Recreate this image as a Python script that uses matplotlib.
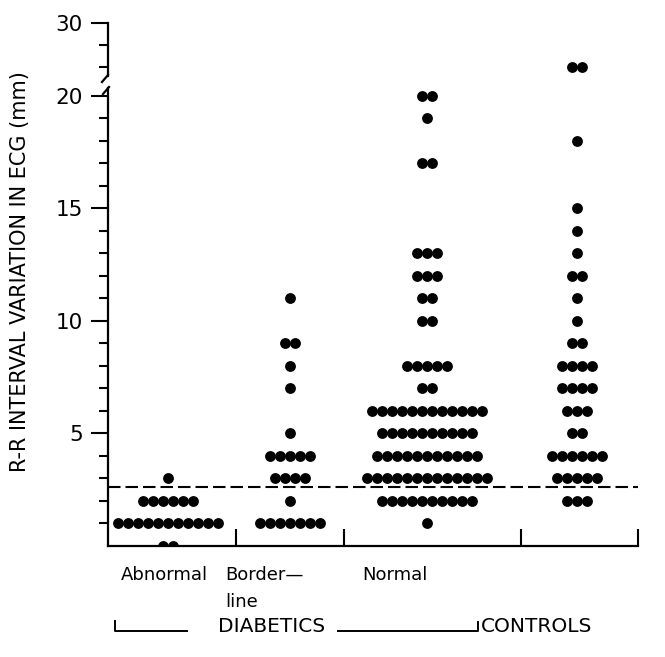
import matplotlib
matplotlib.use('Agg')
from matplotlib import pyplot as plt
from matplotlib.lines import Line2D
import numpy as np

plt.rcParams['font.family'] = ['DejaVu Sans']

# dot plot data: value (mm) and how many subjects at that value
abnormal_values = [0, 1, 2, 3]
abnormal_counts = [2, 11, 6, 1]
border_values = [1, 2, 3, 4, 5, 7, 8, 9, 11]
border_counts = [7, 1, 4, 5, 1, 1, 1, 2, 1]
normal_values = [1, 2, 3, 4, 5, 6, 7, 8, 10, 11, 12, 13, 17, 19, 20]
normal_counts = [1, 10, 13, 11, 10, 12, 2, 5, 2, 2, 3, 3, 2, 1, 2]
control_values = [2, 3, 4, 5, 6, 7, 8, 9, 10, 11, 12, 13, 14, 15, 18, 25]
control_counts = [3, 5, 6, 2, 3, 4, 4, 2, 1, 1, 2, 1, 1, 1, 1, 2]

group_centers = [6.0, 18.2, 31.9, 46.9]
separators = [12.8, 23.6, 41.3, 53.0]
threshold = 2.6

lower_ticks = [5, 10, 15, 20]
upper_ticks = [30]

W, H = 665, 657
fig = plt.figure(figsize=(6.65, 6.57), dpi=100)
ax = fig.add_axes([108/W, 1-546/H, 530/W, 458/H])
ax_top = fig.add_axes([108/W, 1-76/H, 530/W, 53/H], sharex=ax)

groups = [(abnormal_values, abnormal_counts), (border_values, border_counts),
          (normal_values, normal_counts), (control_values, control_counts)]

for (vals, cnts), cx in zip(groups, group_centers):
    for v, n in zip(vals, cnts):
        xs = cx + np.arange(n) - (n-1)/2.0
        ys = np.full(n, v)
        for a in (ax, ax_top):
            a.plot(xs, ys, 'o', color='black', markersize=7.8, markeredgewidth=0)

ax.axhline(threshold, color='black', lw=1.5, ls=(0, (6, 2.4)))

ax.set_xlim(0, 53)
ax.set_ylim(0, 20.35)
ax_top.set_ylim(24.0, 30)

for a in (ax, ax_top):
    a.spines['right'].set_visible(False)
    a.spines['top'].set_visible(False)
    a.spines['left'].set_linewidth(1.6)
ax_top.spines['bottom'].set_visible(False)
ax.spines['bottom'].set_linewidth(1.6)

ax.set_yticks(lower_ticks)
ax.set_yticklabels([str(t) for t in lower_ticks])
ax.set_yticks(np.arange(1, 21), minor=True)
ax.tick_params(axis='y', which='major', direction='out', length=12, width=1.5,
               labelsize=15.5, pad=6)
ax.tick_params(axis='y', which='minor', direction='out', length=6.5, width=1.5)

ax.set_xticks(separators)
ax.set_xticklabels([])
ax.tick_params(axis='x', which='major', direction='in', length=12, width=1.5)

ax_top.set_yticks(upper_ticks)
ax_top.set_yticklabels(['30'])
ax_top.set_yticks([25, 27.5], minor=True)
ax_top.tick_params(axis='y', which='major', direction='out', length=12, width=1.5,
                   labelsize=15.5, pad=6)
ax_top.tick_params(axis='y', which='minor', direction='out', length=6.5, width=1.5)
ax_top.tick_params(axis='x', which='both', bottom=False, labelbottom=False)


def fline(xs, ys, lw=1.4):
    fig.add_artist(Line2D([x/W for x in xs], [1-y/H for y in ys],
                          color='black', lw=lw))


# break marks on the y axis
fline([108, 102], [75, 82], lw=1.6)
fline([103, 109], [94, 87], lw=1.6)

fig.text(20/W, 1-272/H, 'R-R INTERVAL VARIATION IN ECG (mm)', rotation=90,
         ha='center', va='center', fontsize=15)

fig.text(164/W, 1-575/H, 'Abnormal', ha='center', va='center', fontsize=13)
fig.text(225/W, 1-575/H, 'Border\u2014', ha='left', va='center', fontsize=13)
fig.text(225/W, 1-602/H, 'line', ha='left', va='center', fontsize=13)
fig.text(395/W, 1-575/H, 'Normal', ha='center', va='center', fontsize=13)
fig.text(272/W, 1-627/H, 'DIABETICS', ha='center', va='center', fontsize=14.5)
fig.text(481/W, 1-627/H, 'CONTROLS', ha='left', va='center', fontsize=14.5)

fline([115, 115, 187], [621, 631, 631])
fline([338, 478, 478], [631, 631, 622])

fig.savefig('out.png', dpi=100)
